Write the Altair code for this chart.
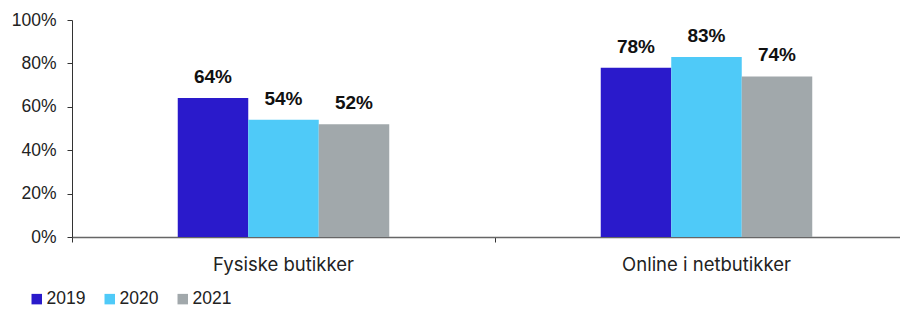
import altair as alt
import pandas as pd

categories = ["Fysiske butikker", "Online i netbutikker"]
years = ["2019", "2020", "2021"]
values_2019 = [0.64, 0.78]
values_2020 = [0.54, 0.83]
values_2021 = [0.52, 0.74]
colors = ["#2A1ACB", "#4FCAF8", "#A1A8AB"]

rows = []
for i, c in enumerate(categories):
    for y, vals in zip(years, [values_2019, values_2020, values_2021]):
        rows.append({"Kategori": c, "År": y, "Andel": vals[i], "Label": f"{round(vals[i]*100)}%"})
df = pd.DataFrame(rows)

x_enc = alt.X("Kategori:N", sort=categories, title=None,
              scale=alt.Scale(paddingInner=0, paddingOuter=0, range=[0, 846]),
              axis=alt.Axis(labelAngle=0, bandPosition=0, ticks=True, tickSize=5,
                            tickColor="#333", domainColor="#666", labelFontSize=18.5,
                            labelFont="Inter", labelColor="#222", labelPadding=13,
                            domainWidth=1.5))
xo_enc = alt.XOffset("År:N", sort=years,
                     scale=alt.Scale(paddingInner=0, paddingOuter=0, range=[105.75, 317.25]))

bars = alt.Chart(df).mark_bar().encode(
    x=x_enc,
    xOffset=xo_enc,
    y=alt.Y("Andel:Q", title=None,
            scale=alt.Scale(domain=[0, 1]),
            axis=alt.Axis(format="%", values=[0, 0.2, 0.4, 0.6, 0.8, 1.0], grid=False,
                          tickSize=5, tickColor="#333", domainColor="#333",
                          labelFontSize=17.5, labelFont="Liberation Sans", labelColor="#222",
                          labelPadding=11)),
    color=alt.Color("År:N", sort=years, scale=alt.Scale(domain=years, range=colors),
                    legend=alt.Legend(title=None, orient="none", legendX=-44, legendY=270,
                                      direction="horizontal", symbolType="square",
                                      symbolSize=110, symbolStrokeWidth=0, symbolOpacity=1,
                                      labelFontSize=17.5, labelFont="Liberation Sans",
                                      labelColor="#222", columnPadding=15, labelOffset=1,
                                      padding=0)),
)

labels = alt.Chart(df).mark_text(baseline="alphabetic", dy=-15, fontSize=19, fontWeight="bold",
                                 font="Liberation Sans", color="#111").encode(
    x=alt.X("Kategori:N", sort=categories),
    xOffset=alt.XOffset("År:N", sort=years),
    y="Andel:Q",
    text="Label:N",
)

chart = (bars + labels).properties(
    width=828, height=217,
    autosize=alt.AutoSizeParams(type="none"),
    padding={"left": 64, "top": 12, "right": 0, "bottom": 72},
).configure_view(stroke=None)

chart.save("out.html", embed_options={"renderer": "svg", "actions": False})
